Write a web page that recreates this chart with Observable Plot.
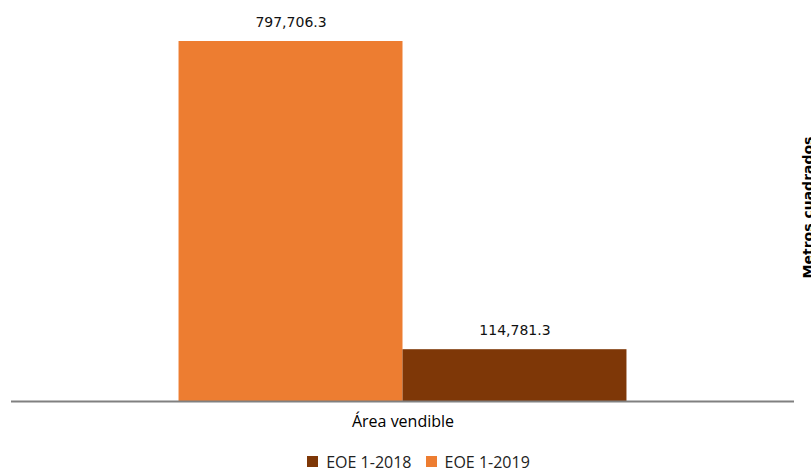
<!DOCTYPE html>
<html><head><meta charset="utf-8">
<script src="https://cdn.jsdelivr.net/npm/d3@7"></script>
<script src="https://cdn.jsdelivr.net/npm/@observablehq/plot@0.6"></script>
<style>
body{margin:0;background:#fff;width:811px;overflow:hidden}
#legend{display:flex;justify-content:center;padding-left:40px;margin-top:5px}
#legend span{margin-right:14px !important}
</style></head><body>
<div id="chart"></div>
<div id="legend"></div>
<script>
const categories = ["Área vendible"];
const series = ["EOE 1-2019", "EOE 1-2018"];
const values = [797706.3, 114781.3];
const legendOrder = ["EOE 1-2018", "EOE 1-2019"];
const colors = ["#7E3707", "#ED7D31"];
const yTitle = "Metros cuadrados";

const data = series.map((s, i) => ({cat: categories[0], series: s, value: values[i]}));
const fmt = d3.format(",.1f");

const chart = Plot.plot({
  width: 811, height: 440,
  marginLeft: 11, marginRight: 17, marginTop: 41, marginBottom: 39,
  style: {fontFamily: "DejaVu Sans", fontSize: "14px", background: "white"},
  fx: {domain: categories, padding: 0, round: false, axis: "bottom", label: null, tickSize: 0, tickPadding: 14},
  x: {domain: series, paddingInner: 0, paddingOuter: 0.748, round: false, axis: null},
  y: {domain: [0, values[0]], axis: null},
  color: {domain: legendOrder, range: colors},
  marks: [
    Plot.barY(data, {fx: "cat", x: "series", y: "value", fill: "series"}),
    Plot.text(data, {fx: "cat", x: "series", y: "value", text: d => fmt(d.value), dy: -19, fill: "#111", fontSize: 14}),
    Plot.ruleY([0], {stroke: "#808080", strokeWidth: 2}),
    Plot.text([yTitle], {fx: () => categories[0], frameAnchor: "right", textAnchor: "middle", lineAnchor: "middle", rotate: -90, dx: 14, dy: -14, fontWeight: "bold", fontSize: 14, fill: "#000"})
  ]
});
document.getElementById("chart").appendChild(chart);
chart.querySelectorAll('g[aria-label="fx-axis tick label"] text').forEach(t => {
  t.setAttribute("font-family", "Liberation Sans Narrow, Open Sans");
  t.setAttribute("font-size", "16");
});

const leg = Plot.legend({color: {domain: legendOrder, range: colors}, swatchSize: 11,
  style: {fontFamily: "Liberation Sans Narrow, Open Sans", fontSize: "16px", color: "#222"}});
document.getElementById("legend").appendChild(leg);
</script>
</body></html>
